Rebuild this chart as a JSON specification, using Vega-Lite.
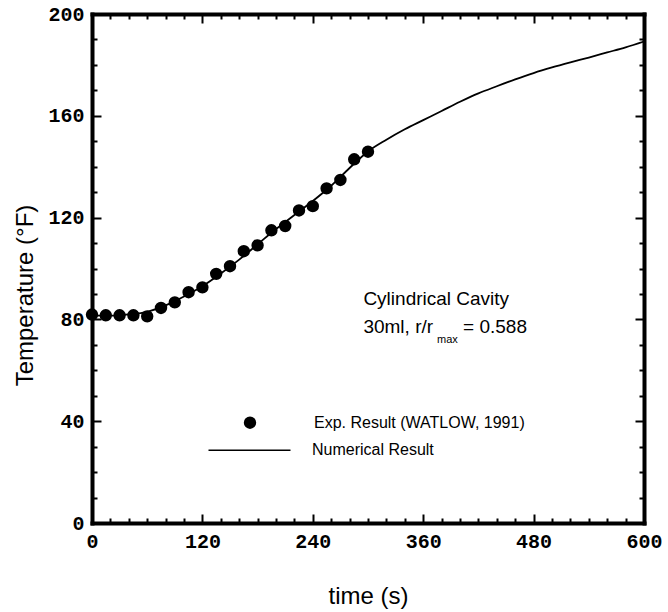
{
  "$schema": "https://vega.github.io/schema/vega-lite/v6.json",
  "width": 552,
  "height": 509,
  "autosize": "none",
  "padding": {"left": 92, "top": 14, "right": 24, "bottom": 89},
  "background": "white",
  "config": {
    "view": {"stroke": null},
    "axis": {
      "grid": false,
      "domainColor": "black",
      "domainWidth": 4,
      "domainCap": "square",
      "tickColor": "black",
      "tickWidth": 2,
      "labelColor": "black",
      "titleColor": "black",
      "labelFont": "Liberation Mono",
      "labelFontSize": 20,
      "labelFontWeight": "bold",
      "titleFont": "Liberation Sans",
      "titleFontSize": 24,
      "titleFontWeight": "normal",
      "labelOverlap": false,
      "labelFlush": false
    }
  },
  "datasets": {
    "exp": [
      {"t": 0, "T": 81.9}, {"t": 15, "T": 81.6}, {"t": 30, "T": 81.6}, {"t": 45, "T": 81.6},
      {"t": 60, "T": 81.2}, {"t": 75, "T": 84.5}, {"t": 90, "T": 86.7}, {"t": 105, "T": 90.7},
      {"t": 120, "T": 92.6}, {"t": 135, "T": 97.9}, {"t": 150, "T": 100.9}, {"t": 165, "T": 106.8},
      {"t": 180, "T": 109.1}, {"t": 195, "T": 115}, {"t": 210, "T": 116.7}, {"t": 225, "T": 122.8},
      {"t": 240, "T": 124.5}, {"t": 255, "T": 131.5}, {"t": 270, "T": 134.8}, {"t": 285, "T": 142.9},
      {"t": 300, "T": 145.9}
    ],
    "num": [
      {"t": 0, "T": 81.5}, {"t": 20, "T": 81.5}, {"t": 40, "T": 82}, {"t": 60, "T": 83},
      {"t": 80, "T": 85.5}, {"t": 100, "T": 89}, {"t": 120, "T": 93}, {"t": 140, "T": 98},
      {"t": 160, "T": 103.5}, {"t": 180, "T": 109.5}, {"t": 200, "T": 115.5}, {"t": 220, "T": 121},
      {"t": 240, "T": 126.5}, {"t": 260, "T": 132.5}, {"t": 280, "T": 139.5}, {"t": 300, "T": 146},
      {"t": 320, "T": 150.6}, {"t": 340, "T": 154.7}, {"t": 360, "T": 158.3}, {"t": 380, "T": 161.9},
      {"t": 400, "T": 165.5}, {"t": 420, "T": 168.8}, {"t": 440, "T": 171.6}, {"t": 460, "T": 174.3},
      {"t": 480, "T": 176.8}, {"t": 500, "T": 179}, {"t": 520, "T": 181}, {"t": 540, "T": 182.9},
      {"t": 560, "T": 184.9}, {"t": 580, "T": 186.9}, {"t": 600, "T": 189.2}
    ],
    "notes": [
      {"label": "Cylindrical Cavity", "t": 295, "T": 85.7},
      {"label": "30ml, r/r", "t": 295, "T": 74.7},
      {"label": "= 0.588", "t": 403.3, "T": 74.7}
    ],
    "sub": [
      {"label": "max", "t": 375, "T": 70.7}
    ]
  },
  "layer": [
    {
      "data": {"name": "num"},
      "mark": {"type": "line", "color": "black", "strokeWidth": 1.8, "interpolate": "monotone"},
      "encoding": {
        "x": {
          "field": "t", "type": "quantitative",
          "scale": {"domain": [0, 600], "nice": false},
          "axis": {
            "orient": "top", "title": null, "labels": false,
            "values": [0, 120, 240, 360, 480, 600],
            "tickSize": -9
          }
        },
        "y": {
          "field": "T", "type": "quantitative",
          "scale": {"domain": [0, 200], "nice": false},
          "axis": {
            "orient": "right", "title": null, "labels": false,
            "values": [0, 40, 80, 120, 160, 200],
            "tickSize": -9
          }
        },
        "color": {
          "datum": "Numerical Result", "type": "nominal",
          "scale": {"range": ["black"]},
          "legend": {
            "orient": "none", "legendX": 115.5, "legendY": 394.3, "title": null, "padding": 0,
            "symbolType": "stroke", "symbolSize": 6724, "symbolStrokeWidth": 1.5, "symbolStrokeColor": "black",
            "labelFont": "Liberation Sans", "labelFontSize": 16, "labelColor": "black", "labelOffset": 20.5, "labelLimit": 0
          }
        }
      }
    },
    {
      "data": {"name": "exp"},
      "mark": {"type": "point", "filled": true, "color": "black", "size": 154, "opacity": 1},
      "encoding": {
        "x": {
          "field": "t", "type": "quantitative",
          "scale": {"domain": [0, 600], "nice": false},
          "axis": {
            "orient": "bottom", "title": "time (s)",
            "values": [0, 120, 240, 360, 480, 600],
            "tickSize": -9,
            "labelPadding": 17,
            "titleX": 276, "titleY": 80, "titleBaseline": "alphabetic", "titleAlign": "center"
          }
        },
        "y": {
          "field": "T", "type": "quantitative",
          "scale": {"domain": [0, 200], "nice": false},
          "axis": {
            "orient": "left", "title": "Temperature (°F)",
            "values": [0, 40, 80, 120, 160, 200],
            "tickSize": -9,
            "labelPadding": 17,
            "titleX": -67, "titleY": 281, "titleAngle": 270, "titleBaseline": "middle", "titleAlign": "center"
          }
        },
        "shape": {
          "datum": "Exp. Result (WATLOW, 1991)", "type": "nominal",
          "scale": {"range": ["circle"]},
          "legend": {
            "orient": "none", "legendX": 150, "legendY": 400.7, "title": null, "padding": 0,
            "symbolSize": 154, "symbolFillColor": "black", "symbolStrokeColor": "black", "symbolStrokeWidth": 0,
            "labelFont": "Liberation Sans", "labelFontSize": 16, "labelColor": "black", "labelOffset": 56, "labelLimit": 0
          }
        }
      }
    },
    {
      "data": {"name": "notes"},
      "mark": {"type": "text", "align": "left", "baseline": "alphabetic", "font": "Liberation Sans", "fontSize": 19, "color": "black"},
      "encoding": {
        "x": {
          "field": "t", "type": "quantitative",
          "axis": {
            "orient": "bottom", "title": null, "labels": false, "domain": false,
            "values": [20,40,60,80,100,140,160,180,200,220,260,280,300,320,340,380,400,420,440,460,500,520,540,560,580],
            "tickSize": -5
          }
        },
        "y": {
          "field": "T", "type": "quantitative",
          "axis": {
            "orient": "left", "title": null, "labels": false, "domain": false,
            "values": [10,20,30,50,60,70,90,100,110,130,140,150,170,180,190],
            "tickSize": -5
          }
        },
        "text": {"field": "label"}
      }
    },
    {
      "data": {"name": "sub"},
      "mark": {"type": "text", "align": "left", "baseline": "alphabetic", "font": "Liberation Sans", "fontSize": 11, "color": "black"},
      "encoding": {
        "x": {
          "field": "t", "type": "quantitative",
          "axis": {
            "orient": "top", "title": null, "labels": false, "domain": false,
            "values": [20,40,60,80,100,140,160,180,200,220,260,280,300,320,340,380,400,420,440,460,500,520,540,560,580],
            "tickSize": -5
          }
        },
        "y": {
          "field": "T", "type": "quantitative",
          "axis": {
            "orient": "right", "title": null, "labels": false, "domain": false,
            "values": [10,20,30,50,60,70,90,100,110,130,140,150,170,180,190],
            "tickSize": -5
          }
        },
        "text": {"field": "label"}
      }
    }
  ],
  "resolve": {"axis": {"x": "independent", "y": "independent"}}
}
